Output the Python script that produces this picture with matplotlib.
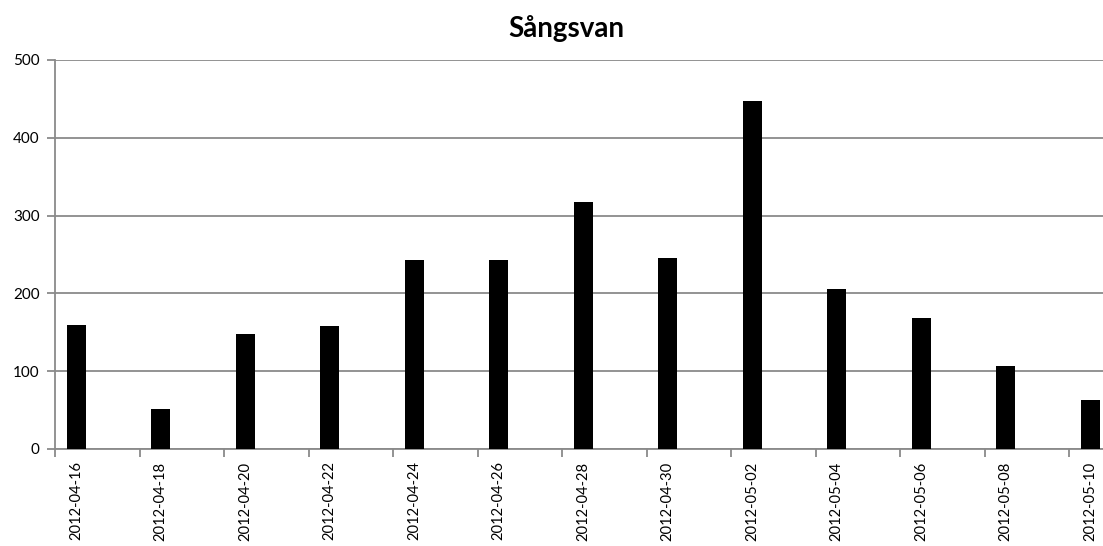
import matplotlib.pyplot as plt
import numpy as np

# ── data ──────────────────────────────────────────────────────────────────────
dates = ["2012-04-16", "2012-04-18", "2012-04-20", "2012-04-22", "2012-04-24",
         "2012-04-26", "2012-04-28", "2012-04-30", "2012-05-02", "2012-05-04",
         "2012-05-06", "2012-05-08", "2012-05-10"]
day_offset = [0, 2, 4, 6, 8, 10, 12, 14, 16, 18, 20, 22, 24]  # days after 2012-04-16
counts = [159, 52, 148, 158, 243, 243, 318, 246, 447, 205, 168, 107, 63]
n_days = 25

plt.rcParams["font.family"] = ["Lato", "DejaVu Sans"]

fig = plt.figure(figsize=(11.03, 5.46), dpi=100)
# axes runs a bit past the right edge, as in the cropped original
ax = fig.add_axes([0.0499, 0.1777, 0.9576, 0.7125])

ax.bar(day_offset, counts, width=0.45, color="black", zorder=3)

ax.set_xlim(-0.5, n_days - 0.5)
ax.set_ylim(0, 500)
ax.set_yticks(np.arange(0, 501, 100))
ax.yaxis.grid(True, color="#8a8a8a", linewidth=1.3, zorder=0)

# tick marks at 2-day boundaries, labels centred on each bar
ax.set_xticks(np.arange(-0.5, n_days, 2))
ax.set_xticklabels([])
ax.set_xticks(day_offset, minor=True)
ax.set_xticklabels(dates, minor=True, rotation=90, fontsize=10.6)
ax.tick_params(axis="x", which="major", length=6, width=1.3, color="#8a8a8a", direction="out")
ax.tick_params(axis="x", which="minor", length=0, pad=9)
ax.tick_params(axis="y", length=6, width=1.3, color="#8a8a8a", labelsize=11, pad=5)

for side in ("top", "right"):
    ax.spines[side].set_visible(False)
for side in ("left", "bottom"):
    ax.spines[side].set_color("#8a8a8a")
    ax.spines[side].set_linewidth(1.3)

fig.text(0.513, 0.948, "Sångsvan", ha="center", va="center", fontsize=20, fontweight="bold")

fig.savefig("out.png", dpi=100)
